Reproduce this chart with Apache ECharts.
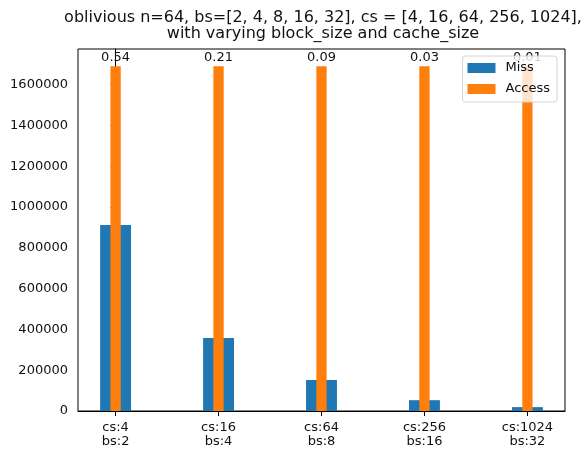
<!DOCTYPE html>
<html>
<head>
<meta charset="utf-8">
<script src="https://cdn.jsdelivr.net/npm/echarts@6/dist/echarts.min.js"></script>
<style>
  html, body { margin: 0; padding: 0; background: #fff; }
  #chart { width: 583px; height: 455px; }
</style>
</head>
<body>
<div id="chart"></div>
<script>
// Cache simulation results for the oblivious algorithm, n = 64
const categories = ['cs:4\nbs:2', 'cs:16\nbs:4', 'cs:64\nbs:8', 'cs:256\nbs:16', 'cs:1024\nbs:32'];
const missCounts = [912000, 358000, 152000, 53000, 19000];
const accessCounts = [1690000, 1690000, 1690000, 1690000, 1690000];
const yTicks = [0, 200000, 400000, 600000, 800000, 1000000, 1200000, 1400000, 1600000];

const FONT = 'DejaVu Sans';
const positions = categories.map((_, i) => i);
const yMax = Math.max(...accessCounts) * 1.05;

const chart = echarts.init(document.getElementById('chart'), null, { renderer: 'canvas' });

const xAxisBase = {
  type: 'value',
  min: -0.365,
  max: positions.length - 1 + 0.365,
  splitLine: { show: false },
  axisLine: { show: true, onZero: false, lineStyle: { color: '#000', width: 1 } }
};

chart.setOption({
  animation: false,
  backgroundColor: '#fff',
  textStyle: { fontFamily: FONT },
  title: {
    text: 'oblivious n=64, bs=[2, 4, 8, 16, 32], cs = [4, 16, 64, 256, 1024],\nwith varying block_size and cache_size',
    left: 318,
    top: 5,
    textAlign: 'center',
    textStyle: { fontFamily: FONT, fontSize: 16, fontWeight: 'normal', color: '#111', lineHeight: 16 }
  },
  grid: {
    left: 78, right: 18, top: 49, bottom: 44,
    show: true, borderColor: '#000', borderWidth: 1, backgroundColor: 'transparent'
  },
  legend: {
    orient: 'vertical',
    right: 26,
    top: 56,
    z: 20,
    data: ['Miss', 'Access'],
    icon: 'rect',
    itemWidth: 28,
    itemHeight: 10,
    itemGap: 7,
    padding: [5, 7, 6, 5],
    backgroundColor: 'rgba(255,255,255,0.8)',
    borderColor: '#d4d4d4',
    borderWidth: 1,
    borderRadius: 3,
    textStyle: { fontFamily: FONT, fontSize: 13, color: '#111', lineHeight: 14, padding: [0, 0, 0, 5] }
  },
  xAxis: [
    Object.assign({}, xAxisBase, {
      axisTick: { show: true, length: 5, lineStyle: { color: '#000' }, customValues: positions },
      axisLabel: {
        customValues: positions,
        formatter: v => categories[Math.round(v)] || '',
        fontFamily: FONT, fontSize: 13, color: '#111', lineHeight: 14, margin: 10
      }
    }),
    Object.assign({}, xAxisBase, {
      show: false
    })
  ],
  yAxis: {
    type: 'value',
    min: 0,
    max: yMax,
    interval: 200000,
    splitLine: { show: false },
    axisLine: { show: true, lineStyle: { color: '#000', width: 1 } },
    axisTick: { show: true, length: 5, lineStyle: { color: '#000' }, customValues: yTicks },
    axisLabel: {
      customValues: yTicks,
      formatter: v => String(v),
      fontFamily: FONT, fontSize: 13, color: '#111', margin: 10
    }
  },
  series: [
    {
      name: 'Miss',
      type: 'bar',
      xAxisIndex: 0,
      barWidth: '30%',
      itemStyle: { color: '#1f77b4' },
      data: positions.map(i => [i, missCounts[i]])
    },
    {
      name: 'Access',
      type: 'bar',
      xAxisIndex: 1,
      barWidth: '10%',
      itemStyle: { color: '#ff7f0e' },
      label: {
        show: true,
        position: 'top',
        distance: 2,
        fontFamily: FONT,
        fontSize: 13,
        color: '#111',
        formatter: p => (missCounts[p.dataIndex] / accessCounts[p.dataIndex]).toFixed(2)
      },
      data: positions.map(i => [i, accessCounts[i]])
    }
  ]
});
</script>
</body>
</html>
